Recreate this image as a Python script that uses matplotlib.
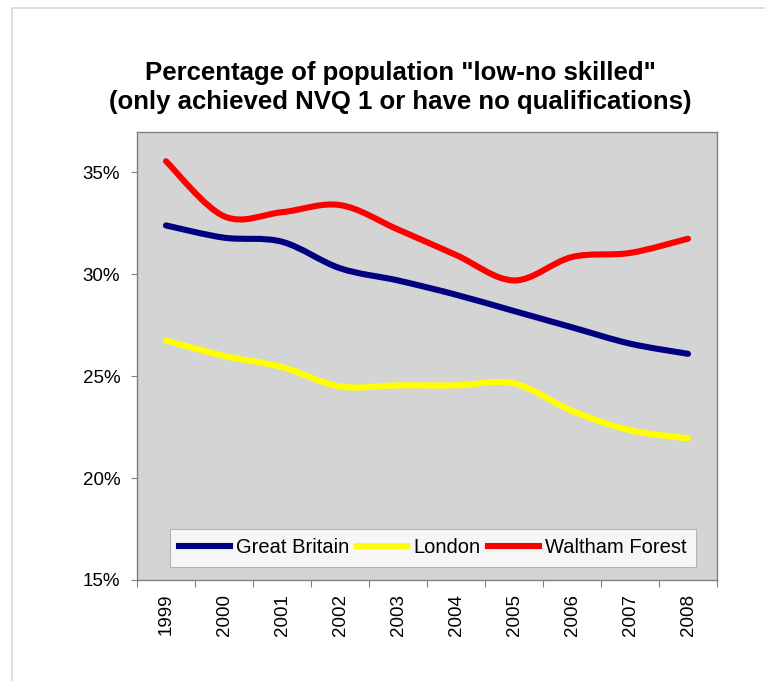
import matplotlib
matplotlib.use("Agg")
import matplotlib.pyplot as plt
from matplotlib.path import Path
from matplotlib.patches import PathPatch, Rectangle
from matplotlib.lines import Line2D
import numpy as np

plt.rcParams['font.family'] = ['Liberation Sans', 'DejaVu Sans']

years = ["1999", "2000", "2001", "2002", "2003", "2004", "2005", "2006", "2007", "2008"]
great_britain = [32.4, 31.8, 31.6, 30.3, 29.7, 29.0, 28.2, 27.4, 26.6, 26.1]
london = [26.75, 26.0, 25.45, 24.5, 24.55, 24.55, 24.65, 23.3, 22.35, 21.95]
waltham_forest = [35.55, 32.85, 33.05, 33.4, 32.2, 30.95, 29.7, 30.85, 31.05, 31.75]

series_names = ["Great Britain", "London", "Waltham Forest"]
series_colors = ["#000080", "#FFFF00", "#FF0000"]


def smooth_path(xs, ys):
    # Excel-like smoothed line: cubic Bezier segments through every data point
    pts = np.column_stack([xs, ys]).astype(float)
    n = len(pts)
    verts = [pts[0]]
    codes = [Path.MOVETO]
    for i in range(n - 1):
        p0 = pts[i - 1] if i > 0 else pts[i]
        p1 = pts[i]
        p2 = pts[i + 1]
        p3 = pts[i + 2] if i + 2 < n else pts[i + 1]
        c1 = p1 + (p2 - p0) / 6.0
        c2 = p2 - (p3 - p1) / 6.0
        verts += [c1, c2, p2]
        codes += [Path.CURVE4] * 3
    return Path(verts, codes)


fig = plt.figure(figsize=(7.65, 6.81), dpi=100)
fig.patch.set_facecolor("white")

# outer chart border (runs off the right and bottom edges)
fig.patches.append(Rectangle((12 / 765, -0.05), 1.0, 1.05 - 8 / 681,
                             transform=fig.transFigure, fill=False,
                             edgecolor="#d8d8d8", lw=1.2))

ax = fig.add_axes([137 / 765, 1 - 580 / 681, 580 / 765, 448.3 / 681])
ax.set_facecolor("#d4d4d4")
x = np.arange(len(years))

for vals, col in zip([great_britain, london, waltham_forest], series_colors):
    patch = PathPatch(smooth_path(x, vals), fill=False, edgecolor=col, lw=4.4,
                      capstyle="round", joinstyle="round", transform=ax.transData)
    ax.add_patch(patch)

ax.set_xlim(-0.5, len(years) - 0.5)
ax.set_ylim(15, 37)

ax.set_xticks(np.arange(-0.5, len(years), 1.0))
ax.set_xticklabels([])
ax.set_xticks(x, minor=True)
ax.set_xticklabels(years, minor=True, rotation=90, fontsize=13.5)
ax.tick_params(axis="x", which="major", length=5, color="#808080", direction="out")
ax.tick_params(axis="x", which="minor", length=0, pad=10)

ax.set_yticks([15, 20, 25, 30, 35])
ax.set_yticklabels([f"{v}%" for v in [15, 20, 25, 30, 35]], fontsize=13.5)
ax.tick_params(axis="y", length=4, color="#808080", direction="out", pad=8)

for s in ax.spines.values():
    s.set_color("#808080")
    s.set_linewidth(1.0)

handles = [Line2D([0], [0], color=c, lw=4.4) for c in series_colors]
leg = ax.legend(handles, series_names, loc="lower center", bbox_to_anchor=(0.51, 0.03),
                ncol=3, fontsize=14.5, frameon=True, fancybox=False, borderaxespad=0,
                handlelength=2.5, handletextpad=0.3, columnspacing=0.4,
                borderpad=0.45)
leg.get_frame().set_facecolor("white")
leg.get_frame().set_edgecolor("#a8a8a8")
leg.get_frame().set_linewidth(0.8)

fig.text(400 / 765, 1 - 87.5 / 681,
         'Percentage of population "low-no skilled"\n(only achieved NVQ 1 or have no qualifications)',
         ha="center", va="center", fontsize=18.5, fontweight="bold", linespacing=1.25)

fig.savefig("out.png", dpi=100)
